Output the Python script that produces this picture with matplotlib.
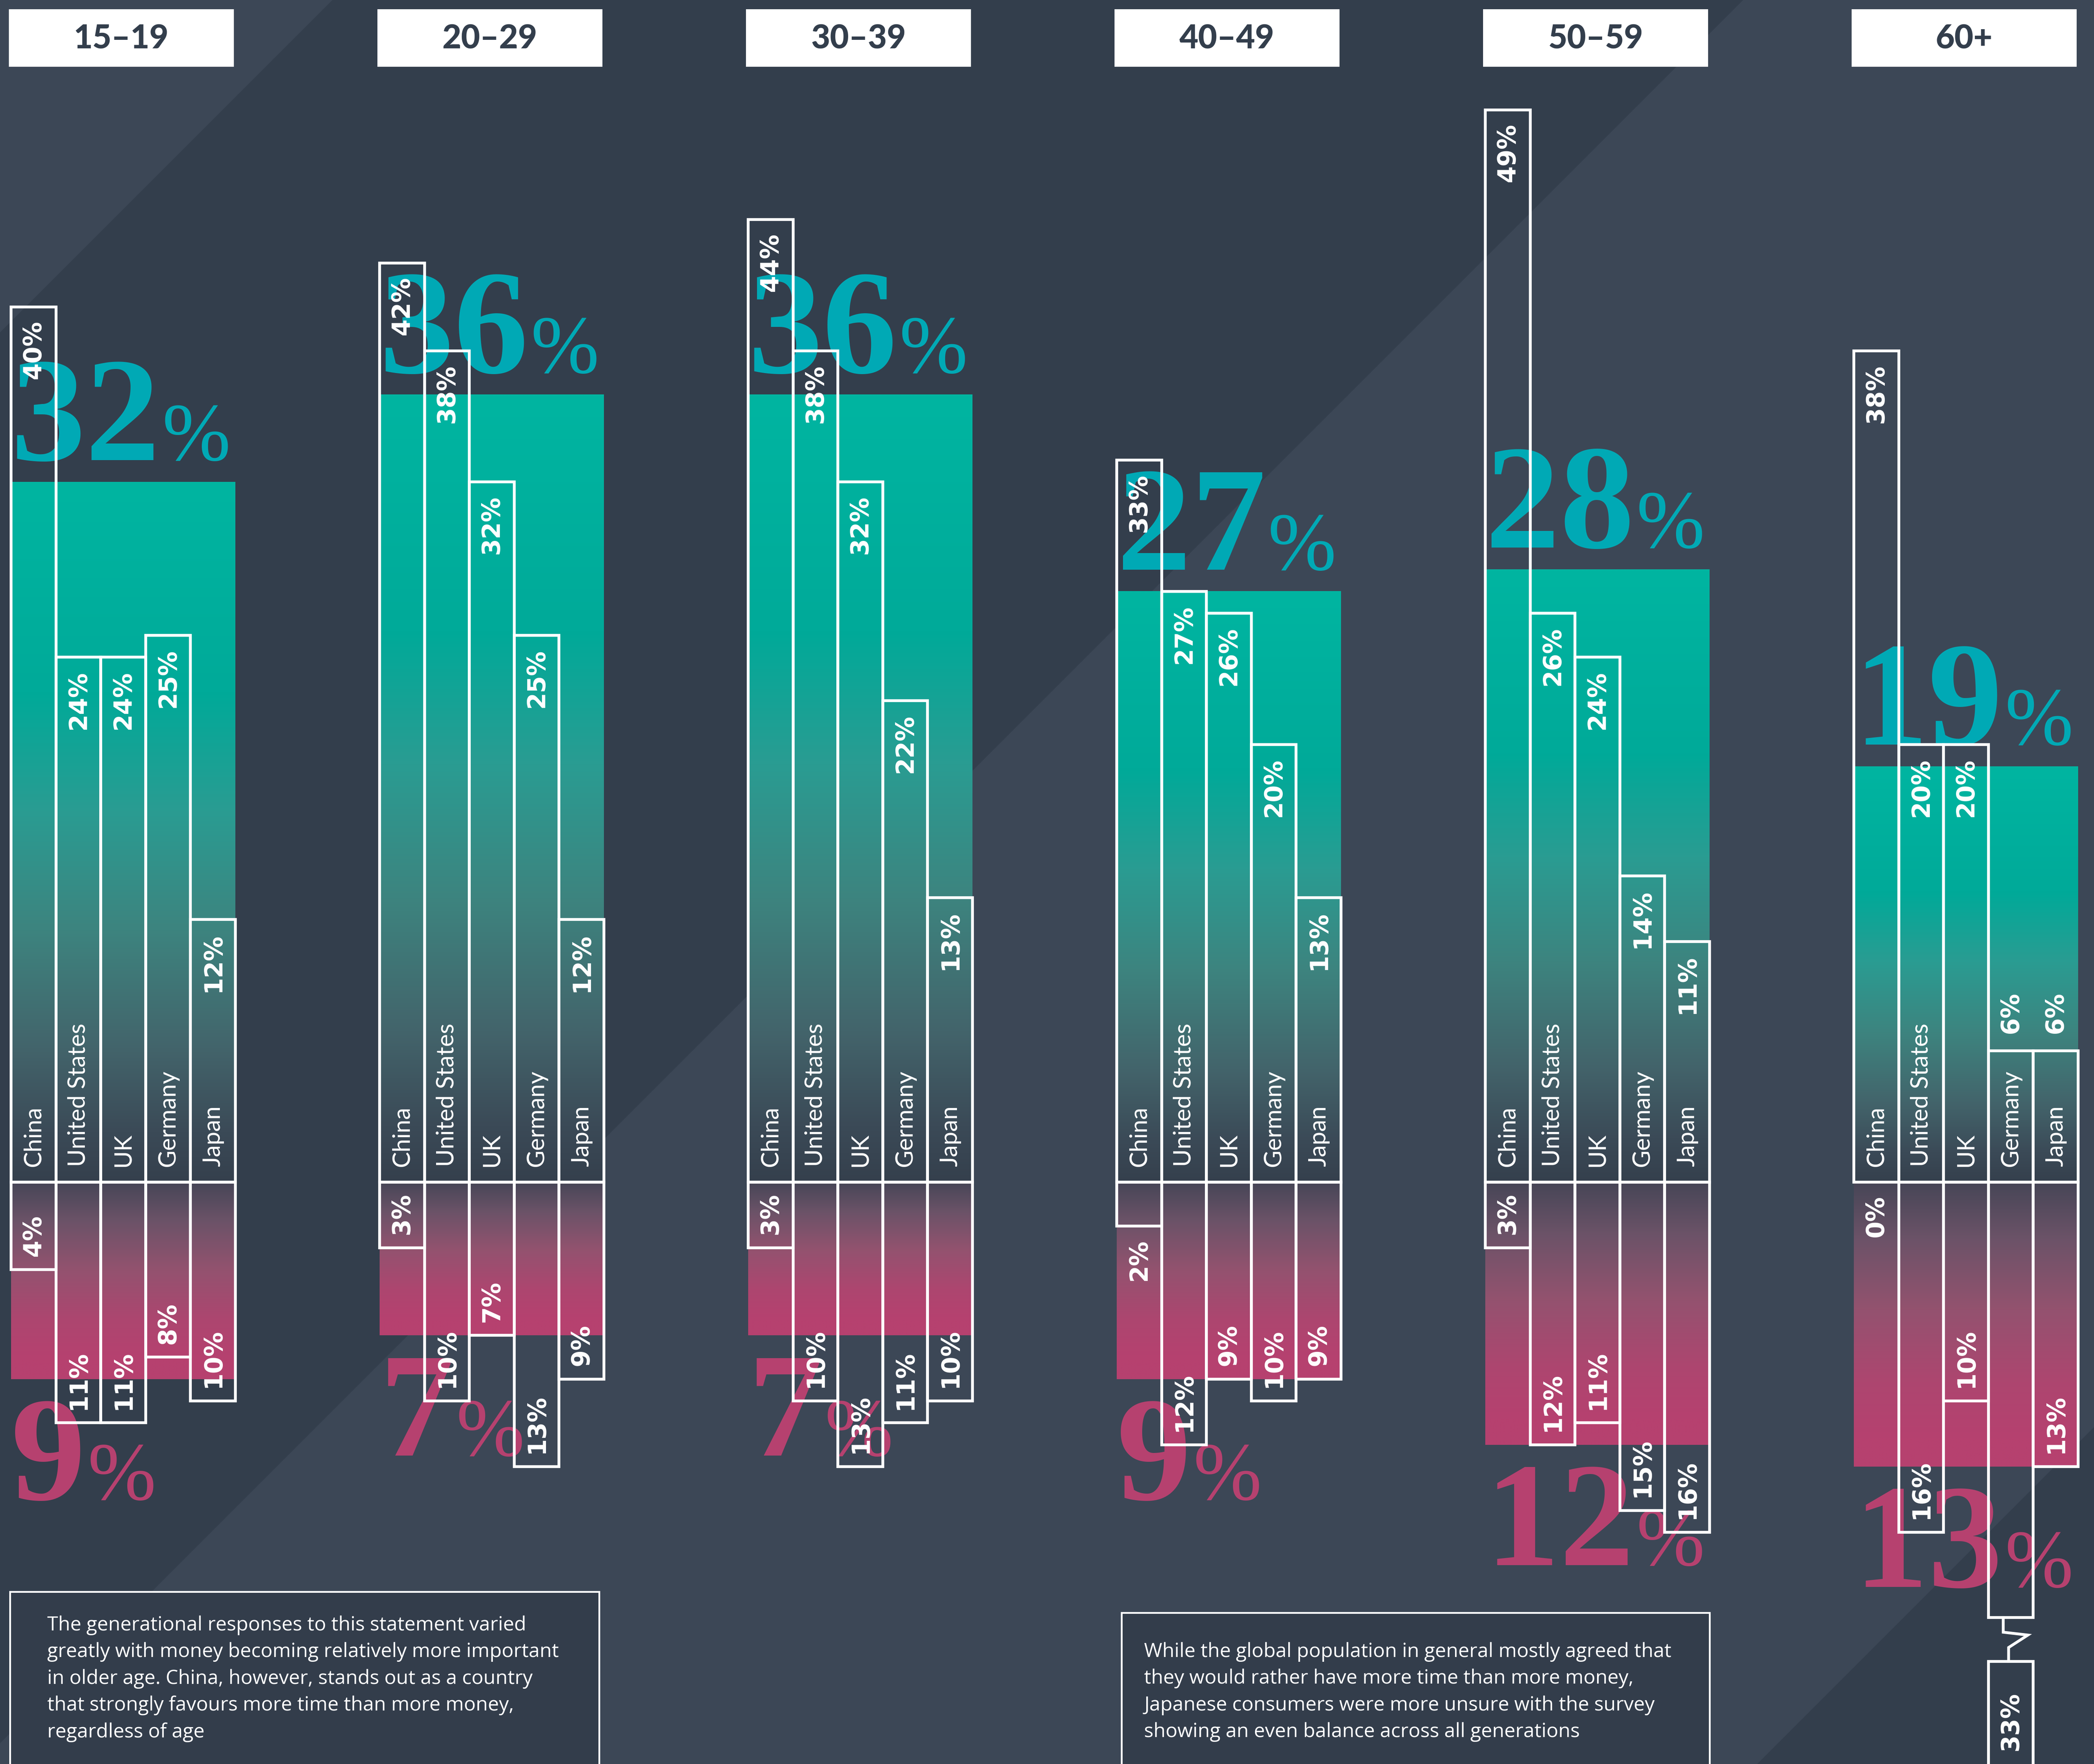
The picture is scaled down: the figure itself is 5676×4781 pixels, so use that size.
import numpy as np
import matplotlib.pyplot as plt
from matplotlib.patches import Rectangle, Polygon
from matplotlib.colors import LinearSegmentedColormap

# ---- data -------------------------------------------------------------
ages = ['15–19', '20–29', '30–39', '40–49', '50–59', '60+']
countries = ['China', 'United States', 'UK', 'Germany', 'Japan']

# share preferring more time (upper bars), per age group, same order as countries
time_pct = [
    [40, 24, 24, 25, 12],
    [42, 38, 32, 25, 12],
    [44, 38, 32, 22, 13],
    [33, 27, 26, 20, 13],
    [49, 26, 24, 14, 11],
    [38, 20, 20, 6, 6],
]
# share preferring more money (lower bars)
money_pct = [
    [4, 11, 11, 8, 10],
    [3, 10, 7, 13, 9],
    [3, 10, 13, 11, 10],
    [2, 12, 9, 10, 9],
    [3, 12, 11, 15, 16],
    [0, 16, 10, 33, 13],
]
# global averages per age group
time_avg = [32, 36, 36, 27, 28, 19]
money_avg = [9, 7, 7, 9, 12, 13]

note_left = [
    'The generational responses to this statement varied',
    'greatly with money becoming relatively more important',
    'in older age. China, however, stands out as a country',
    'that strongly favours more time than more money,',
    'regardless of age',
]
note_right = [
    'While the global population in general mostly agreed that',
    'they would rather have more time than more money,',
    'Japanese consumers were more unsure with the survey',
    'showing an even balance across all generations',
]

# ---- layout / style -----------------------------------------------------
W, H, DPI = 5676, 4781, 100
BASE_PX = 3204          # pixel row of the 0% line
PX_PER_PCT = 59.3
X0, STEP, BAR_W = 30, 999, 121.6
BREAK_TOP, BREAK_GAP = 19.9, 2.0

DARK = '#333e4c'
LIGHT = '#3c4756'
TEAL_TXT = '#00a9b5'
PINK_TXT = '#b6416f'
SANS = ['Lato', 'DejaVu Sans']
VAL = ['DejaVu Sans']
SERIF = ['Liberation Serif', 'DejaVu Serif']
LW = 5.5


def py(p):
    # pixel row -> percent units on the y axis
    return (BASE_PX - p) / PX_PER_PCT


y_top, y_bot = py(0), py(H)

teal_cmap = LinearSegmentedColormap.from_list('teal', [
    (0.0, '#35404d'), (0.07, '#3b4a57'), (0.19, '#43646b'), (0.36, '#3d847f'),
    (0.53, '#2a9c92'), (0.70, '#00aa99'), (1.0, '#00b5a1')])
pink_cmap = LinearSegmentedColormap.from_list('pink', [
    (0.0, '#474657'), (0.2, '#6c5368'), (0.45, '#94526f'), (0.7, '#ad4670'),
    (0.9, '#b6416f'), (1.0, '#b6416f')])

fig = plt.figure(figsize=(W / DPI, H / DPI), dpi=DPI, facecolor=DARK)
ax = fig.add_axes([0, 0, 1, 1])
ax.set_facecolor(DARK)
ax.axis('off')

# background diagonal shading
ax.add_patch(Polygon([(0, py(0)), (901, py(0)), (0, py(901))], closed=True,
                     fc=LIGHT, ec='none', zorder=0))
ax.add_patch(Polygon([(4725, py(0)), (W, py(0)), (W, py(3868)), (4763, py(H)),
                      (0, py(H)), (0, py(4725))], closed=True,
                     fc=LIGHT, ec='none', zorder=0))


def big_number(x, y, value, color):
    t = ax.text(x, y, str(value), fontsize=291, fontweight='bold', family=SERIF,
                color=color, ha='left', va='baseline', zorder=2)
    ax.annotate('%', xy=(1, y), xycoords=(t, 'data'), xytext=(4, 0),
                textcoords='offset points', fontsize=160, family=SERIF,
                color=color, ha='left', va='baseline', zorder=2)


for g, age in enumerate(ages):
    x0 = X0 + g * STEP
    x1 = x0 + 5 * BAR_W

    # average blocks with vertical gradients
    tgrad = teal_cmap(np.linspace(0, 1, 256))[:, None, :]
    ax.imshow(tgrad, extent=[x0, x1, 0, time_avg[g]], origin='lower',
              aspect='auto', interpolation='bilinear', zorder=1)
    pgrad = pink_cmap(np.linspace(1, 0, 256))[:, None, :]
    ax.imshow(pgrad, extent=[x0, x1, -money_avg[g], 0], origin='lower',
              aspect='auto', interpolation='bilinear', zorder=1)

    # big average numbers
    big_number(x0, time_avg[g] + 1.0, time_avg[g], TEAL_TXT)
    big_number(x0, -(money_avg[g] + 5.5), money_avg[g], PINK_TXT)

    # country bars
    for i, c in enumerate(countries):
        bx = x0 + i * BAR_W
        cx = bx + BAR_W / 2
        v = time_pct[g][i]
        m = money_pct[g][i]

        ax.add_patch(Rectangle((bx, 0), BAR_W, v, fill=False, ec='white',
                               lw=LW, joinstyle='miter', zorder=3))
        if m > -y_bot:
            # bar runs off the page: draw it broken
            ax.add_patch(Rectangle((bx, -BREAK_TOP), BAR_W, BREAK_TOP, fill=False,
                                   ec='white', lw=LW, joinstyle='miter', zorder=3))
            lo = -BREAK_TOP - BREAK_GAP
            ax.add_patch(Rectangle((bx, -m), BAR_W, lo + m, fill=False,
                                   ec='white', lw=LW, joinstyle='miter', zorder=3))
            zx = [cx - 0.17 * BAR_W, cx - 0.17 * BAR_W, cx + 0.38 * BAR_W,
                  cx - 0.05 * BAR_W, cx - 0.05 * BAR_W]
            zy = [-BREAK_TOP, -BREAK_TOP - 0.67, -BREAK_TOP - 0.8,
                  -BREAK_TOP - 1.37, lo]
            ax.plot(zx, zy, color='white', lw=LW, solid_joinstyle='miter', zorder=3)
        elif m > 0:
            ax.add_patch(Rectangle((bx, -m), BAR_W, m, fill=False, ec='white',
                                   lw=LW, joinstyle='miter', zorder=3))

        ax.text(cx, 0.7, c, rotation=90, ha='center', va='bottom', fontsize=47,
                family=SANS, color='white', zorder=4)

        vstyle = dict(rotation=90, ha='center', fontsize=48, fontweight='bold',
                      family=VAL, color='white', zorder=4)
        if v >= 8:
            ax.text(cx, v - 0.62, f'{v}%', va='top', **vstyle)
        else:
            ax.text(cx, v + 0.8, f'{v}%', va='bottom', **vstyle)

        if m >= 3:
            ax.text(cx, max(-m, y_bot) + 0.6, f'{m}%', va='bottom', **vstyle)
        else:
            ax.text(cx, -m - 0.6, f'{m}%', va='top', **vstyle)

    # header box
    hx = x0 - 6
    ax.add_patch(Rectangle((hx, py(181)), 610, py(25) - py(181), fc='white',
                           ec='none', zorder=5))
    ax.text(hx + 305, py(132), age, ha='center', va='baseline', fontsize=64,
            fontweight='black', family=SANS, color=DARK, zorder=6)

# notes at the bottom
for (bx0, bx1, top, tx, first, lines) in [
        (27, 1624, 4314, 128, 4419, note_left),
        (3040, 4634, 4371, 3101, 4491, note_right)]:
    ax.add_patch(Rectangle((bx0, y_bot - 1), bx1 - bx0, py(top) - y_bot + 1,
                           fc='#333d4b', ec='white', lw=3.5, zorder=5))
    for k, line in enumerate(lines):
        ax.text(tx, py(first + k * 72.4), line, ha='left', va='baseline',
                fontsize=38.5, family=['Open Sans', 'DejaVu Sans'], color='white',
                zorder=6)

ax.set_xlim(0, W)
ax.set_ylim(y_bot, y_top)

fig.savefig('out.png', dpi=DPI, facecolor=fig.get_facecolor())
